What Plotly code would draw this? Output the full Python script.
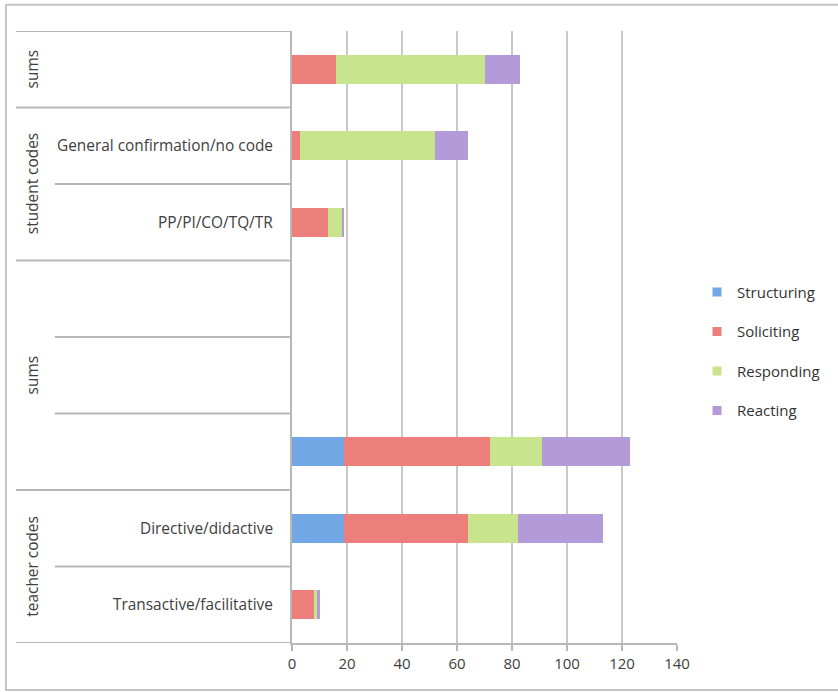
import plotly.graph_objects as go

# Category rows, listed bottom to top
outer_groups = ["teacher codes", "teacher codes", "sums", "sums", "sums",
                "student codes", "student codes", "sums"]
inner_labels = ["Transactive/facilitative", "Directive/didactive", "", "", "",
                "PP/PI/CO/TQ/TR", "General confirmation/no code", ""]

# Move counts per category
structuring = [0, 19, 19, 0, 0, 0, 0, 0]
soliciting = [8, 45, 53, 0, 0, 13, 3, 16]
responding = [1, 18, 19, 0, 0, 5, 49, 54]
reacting = [1, 31, 32, 0, 0, 1, 12, 13]

series_names = ["Structuring", "Soliciting", "Responding", "Reacting"]
series_values = [structuring, soliciting, responding, reacting]
series_colors = ["#72a7e6", "#ec7f7b", "#c8e48c", "#b39ad8"]

x_ticks = [0, 20, 40, 60, 80, 100, 120, 140]

FONT = "Open Sans"
TEXT = "#404040"
LINE = "#b8b8b8"
LABEL_SIZE = 15.4

rows = list(range(len(inner_labels)))

fig = go.Figure()
for name, vals, col in zip(series_names, series_values, series_colors):
    fig.add_trace(go.Bar(
        y=rows, x=vals, orientation="h", name=name,
        marker=dict(color=col, line=dict(width=0)),
        showlegend=False, hoverinfo="x+name",
    ))
# legend entries with small square swatches
for i, (name, col) in enumerate(zip(series_names, series_colors)):
    fig.add_trace(go.Scatter(
        x=[None], y=[None], mode="markers", name=name,
        marker=dict(symbol="square", size=9, color=col),
        legendgroup=f"g{i}", showlegend=True,
    ))

# left-hand category table: divider lines and labels
L_FULL = -0.717   # left end of group dividers (paper units)
L_INNER = -0.616  # left end of inner dividers
shapes = []
n = len(rows)
bounds = [-0.5] + [r + 0.5 for r in rows]
for b in bounds:
    lo = int(b - 0.5)
    hi = int(b + 0.5)
    if lo < 0 or hi >= n or outer_groups[lo] != outer_groups[hi]:
        x0 = L_FULL
    else:
        x0 = L_INNER
    shapes.append(dict(type="line", xref="paper", yref="y", x0=x0, x1=0,
                       y0=b, y1=b, line=dict(color=LINE, width=2), layer="below"))

# outer frame
shapes.append(dict(type="rect", xref="paper", yref="paper",
                   x0=-0.743, x1=1.43, y0=-0.077, y1=1.043,
                   line=dict(color="#c4c4c4", width=2), layer="below"))

annotations = []
for r, lab in zip(rows, inner_labels):
    if lab:
        annotations.append(dict(text=lab, x=-0.044, xref="paper", y=r, yref="y",
                                xanchor="right", yanchor="middle", showarrow=False,
                                font=dict(family=FONT, size=LABEL_SIZE, color=TEXT)))
# group spans
start = 0
for r in range(1, n + 1):
    if r == n or outer_groups[r] != outer_groups[start]:
        annotations.append(dict(text=outer_groups[start], x=-0.675, xref="paper",
                                y=(start + r - 1) / 2, yref="y", textangle=-90,
                                xanchor="center", yanchor="middle", showarrow=False,
                                font=dict(family=FONT, size=LABEL_SIZE, color=TEXT)))
        start = r

fig.update_layout(
    barmode="stack",
    bargap=0.62,
    width=838, height=692,
    margin=dict(l=292, r=161, t=31, b=49, autoexpand=False),
    paper_bgcolor="white", plot_bgcolor="white",
    font=dict(family=FONT, size=15, color=TEXT),
    shapes=shapes, annotations=annotations,
    legend=dict(x=1.052, y=0.60, xanchor="left", yanchor="top",
                traceorder="grouped", tracegroupgap=17,
                font=dict(family=FONT, size=15, color="#333333"),
                itemwidth=30, bgcolor="rgba(0,0,0,0)"),
    xaxis=dict(range=[0, 140], tickvals=x_ticks, showgrid=True,
               gridcolor="#c8c8c8", gridwidth=2, zeroline=False,
               showline=True, linecolor=LINE, linewidth=2,
               ticks="outside", ticklen=6, tickcolor=LINE, tickwidth=2,
               tickfont=dict(family=FONT, size=15, color=TEXT), fixedrange=True),
    yaxis=dict(range=[-0.5, n - 0.5], showticklabels=False, showgrid=False,
               zeroline=False, showline=True, linecolor=LINE, linewidth=2,
               ticks="", fixedrange=True),
)

fig.write_html("out.html")
